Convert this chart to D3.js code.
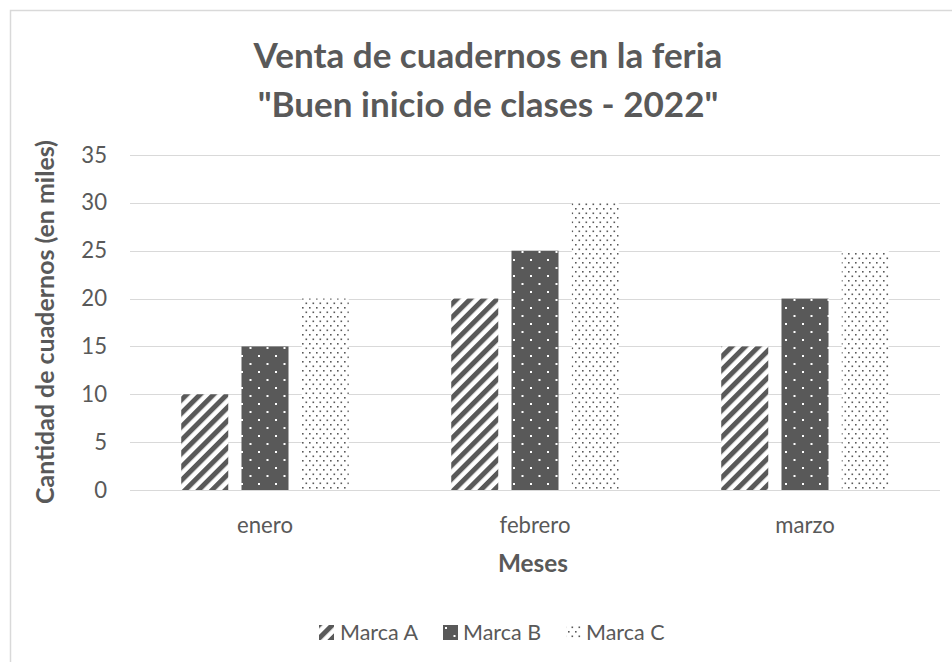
<!DOCTYPE html>
<html><head><meta charset="utf-8">
<script src="https://cdn.jsdelivr.net/npm/d3@7"></script>
<style>body{margin:0;background:#fff}svg{display:block}text{font-family:Lato,sans-serif;fill:#595959}</style>
</head><body>
<script>
const categories = ["enero", "febrero", "marzo"];
const seriesNames = ["Marca A", "Marca B", "Marca C"];
const marcaA = [10, 20, 15];
const marcaB = [15, 25, 20];
const marcaC = [20, 30, 25];
const yTicks = [0, 5, 10, 15, 20, 25, 30, 35];
const titleLines = ["Venta de cuadernos en la feria", "\"Buen inicio de clases - 2022\""];

const W = 952, H = 662;
const svg = d3.select("body").append("svg").attr("width", W).attr("height", H);
const defs = svg.append("defs");
const dark = "#595959";

function fit(sel, target) {
  const n = sel.node();
  const fs = parseFloat(sel.style("font-size"));
  const w = n.getComputedTextLength();
  sel.style("font-size", (fs * target / w).toFixed(2) + "px");
  return sel;
}

const pA = defs.append("pattern").attr("id","pA").attr("patternUnits","userSpaceOnUse")
  .attr("width",9.5).attr("height",9.5).attr("patternTransform","rotate(45)");
pA.append("rect").attr("width",9.5).attr("height",9.5).attr("fill","#fff");
pA.append("rect").attr("width",5).attr("height",9.5).attr("fill",dark);
const pB = defs.append("pattern").attr("id","pB").attr("patternUnits","userSpaceOnUse")
  .attr("width",17).attr("height",16);
pB.append("rect").attr("width",17).attr("height",16).attr("fill",dark);
pB.append("rect").attr("x",3).attr("y",3).attr("width",2).attr("height",2).attr("fill","#fff");
pB.append("rect").attr("x",11.5).attr("y",11).attr("width",2).attr("height",2).attr("fill","#fff");
const pC = defs.append("pattern").attr("id","pC").attr("patternUnits","userSpaceOnUse")
  .attr("width",7).attr("height",9);
pC.append("rect").attr("width",7).attr("height",9).attr("fill","#fff");
pC.append("rect").attr("x",1).attr("y",1).attr("width",1.6).attr("height",1.6).attr("fill",dark);
pC.append("rect").attr("x",4.5).attr("y",5.5).attr("width",1.6).attr("height",1.6).attr("fill",dark);
const fills = ["url(#pA)","url(#pB)","url(#pC)"];

svg.append("rect").attr("x",10.5).attr("y",10.5).attr("width",W).attr("height",H)
  .attr("fill","none").attr("stroke","#d9d9d9").attr("stroke-width",1.5);

const plot = {left:130, right:940, top:155, bottom:490};
const x0 = d3.scaleBand().domain(categories).range([plot.left, plot.right]);
const x1 = d3.scaleBand().domain(seriesNames).range([0, x0.bandwidth()]).paddingInner(0.22).paddingOuter(0.85);
const y = d3.scaleLinear().domain([0,35]).range([plot.bottom, plot.top]);

svg.append("g").selectAll("line").data(yTicks).join("line")
  .attr("x1",plot.left).attr("x2",plot.right)
  .attr("y1",d=>Math.round(y(d))+0.5).attr("y2",d=>Math.round(y(d))+0.5)
  .attr("stroke","#d9d9d9").attr("stroke-width",1);

const data = [marcaA, marcaB, marcaC];
categories.forEach((c,i)=>{
  seriesNames.forEach((s,j)=>{
    svg.append("rect").attr("x",x0(c)+x1(s)).attr("width",x1.bandwidth())
      .attr("y",y(data[j][i])).attr("height",y(0)-y(data[j][i]))
      .attr("fill",fills[j]);
  });
});

// label font size from reference width of "febrero"
const probe = svg.append("text").style("font-size","18px").text("febrero");
fit(probe, 71);
const lblFs = parseFloat(probe.style("font-size"));
probe.remove();

const yAxis = svg.append("g").attr("transform",`translate(${plot.left},0)`)
  .call(d3.axisLeft(y).tickValues(yTicks).tickSize(0).tickPadding(23));
yAxis.select(".domain").remove();
yAxis.selectAll("text").style("font-size",lblFs+"px").attr("fill",dark).style("font-family","Lato");

const xAxis = svg.append("g").attr("transform",`translate(0,${plot.bottom})`)
  .call(d3.axisBottom(x0).tickSize(0).tickPadding(43 - 0.71*lblFs));
xAxis.select(".domain").remove();
xAxis.selectAll("text").style("font-size",lblFs+"px").attr("fill",dark).style("font-family","Lato");

const tl = titleLines.map((t,i)=>svg.append("text").attr("x",488).attr("y",68+i*49)
  .attr("text-anchor","middle").style("font-size","28px").style("font-weight","bold").text(t));
fit(tl[0], 469);
tl[1].style("font-size", tl[0].style("font-size"));

fit(svg.append("text").attr("x",533).attr("y",572).attr("text-anchor","middle")
  .style("font-size","18px").style("font-weight","bold").text("Meses"), 70);
fit(svg.append("text").attr("transform","translate(54,322) rotate(-90)").attr("text-anchor","middle")
  .style("font-size","18px").style("font-weight","bold").text("Cantidad de cuadernos (en miles)"), 364);

const legSym = [319, 443, 566];
const legTxt = [340, 463, 586];
let legFs = null;
seriesNames.forEach((s,j)=>{
  svg.append("rect").attr("x",legSym[j]).attr("y",625).attr("width",15).attr("height",15).attr("fill",fills[j]);
  const t = svg.append("text").attr("x",legTxt[j]).attr("y",640).style("font-size","18px").text(s);
  if (j===0) { fit(t, 78); legFs = t.style("font-size"); } else t.style("font-size", legFs);
});
</script>
</body></html>
